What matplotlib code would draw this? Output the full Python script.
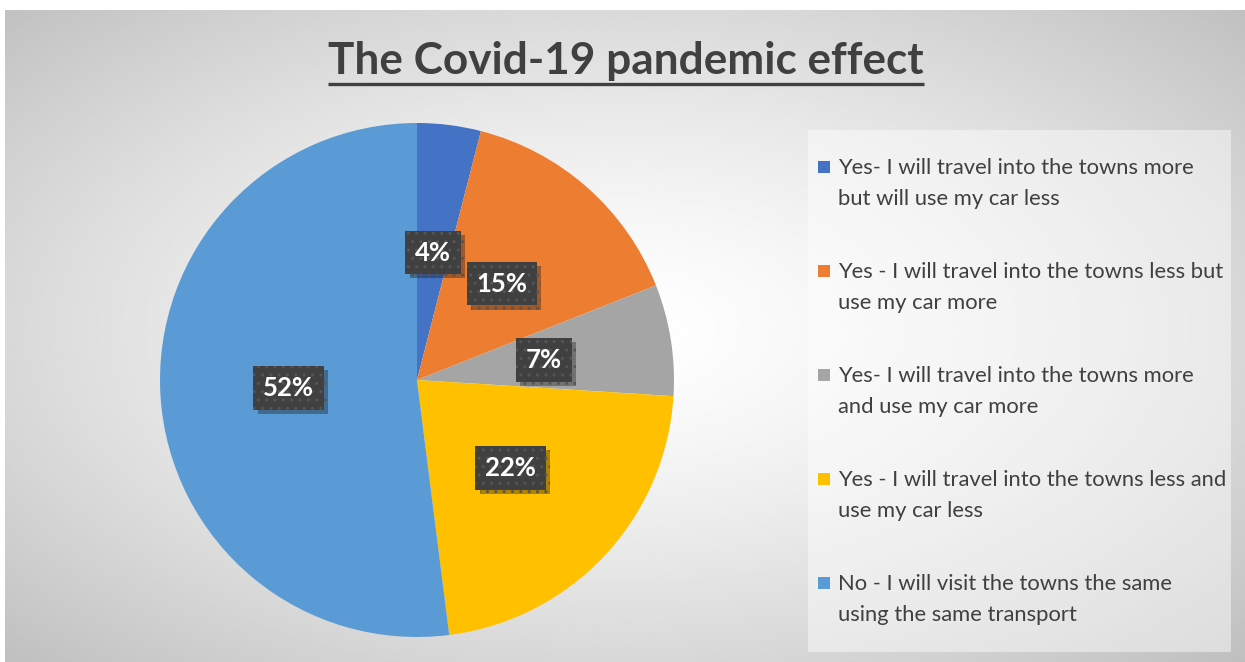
import numpy as np
import matplotlib
matplotlib.use("Agg")
import matplotlib.pyplot as plt
import matplotlib.patheffects as pe
from matplotlib.patches import Rectangle

# --- data ---
labels = [
    "Yes- I will travel into the towns more\nbut will use my car less",
    "Yes - I will travel into the towns less but\nuse my car more",
    "Yes- I will travel into the towns more\nand use my car more",
    "Yes - I will travel into the towns less and\nuse my car less",
    "No - I will visit the towns the same\nusing the same transport",
]
shares = [4, 15, 7, 22, 52]
colors = ["#4472C4", "#ED7D31", "#A5A5A5", "#FFC000", "#5B9BD5"]
title = "The Covid-19 pandemic effect"

W, H = 1245, 662
plt.rcParams['font.family'] = ['Lato', 'DejaVu Sans']
fig = plt.figure(figsize=(W / 100, H / 100), dpi=100)

# --- background (pixel coordinates) ---
bg = fig.add_axes([0, 0, 1, 1])
bg.axis("off")
x0, y0 = 5, 10
xx, yy = np.meshgrid(np.linspace(x0, W, 400), np.linspace(y0, H, 220))
cx, cy = 620, 330
r = np.sqrt(((xx - cx) / (W / 2)) ** 2 + ((yy - cy) / (H / 2)) ** 2) / np.sqrt(2)
grad = 1 - 0.25 * r ** 1.4
bg.imshow(grad, cmap="gray", vmin=0, vmax=1, extent=(x0, W, H, y0),
          aspect="auto", interpolation="bilinear", zorder=0)
bg.set_xlim(0, W)
bg.set_ylim(H, 0)

# title with underline
t = bg.text(626, 61, title, fontsize=31.8, fontweight="bold", color="#404040",
            ha="center", va="center")
fig.canvas.draw()
ext = t.get_window_extent().transformed(bg.transData.inverted())
bg.plot([ext.x0, ext.x1], [84, 84], color="#404040", lw=2.4, solid_capstyle="butt")

# legend box
bg.add_patch(Rectangle((808, 130), 423, 522, facecolor="white", alpha=0.45,
                       edgecolor="none", zorder=1))
for i, (lab, col) in enumerate(zip(labels, colors)):
    y = 167 + i * 104
    bg.add_patch(Rectangle((818, y - 6), 12, 12, facecolor=col, edgecolor="none", zorder=2))
    bg.text(838, y - 9, lab, fontsize=15.8, color="#404040", va="top", ha="left",
            linespacing=1.68, zorder=3)

# --- pie ---
pcx, pcy, pr = 417, 380, 257
ax = fig.add_axes([(pcx - pr) / W, (H - pcy - pr) / H, 2 * pr / W, 2 * pr / H])
wedges, texts, autotexts = ax.pie(
    shares, colors=colors, startangle=90, counterclock=False,
    autopct=lambda p: f"{p:.0f}%", pctdistance=0.5,
    wedgeprops=dict(linewidth=0),
    textprops=dict(color="white", fontsize=18.5, fontweight="bold"),
)
for at in autotexts:
    at.set_bbox(dict(boxstyle="square,pad=0.38", facecolor="#404040",
                     edgecolor="#555555", hatch="..", linewidth=0))
    at.get_bbox_patch().set_path_effects(
        [pe.SimplePatchShadow(offset=(3, -3), alpha=0.35), pe.Normal()])
ax.set_xlim(-1, 1)
ax.set_ylim(-1, 1)

fig.savefig("out.png", dpi=100)
